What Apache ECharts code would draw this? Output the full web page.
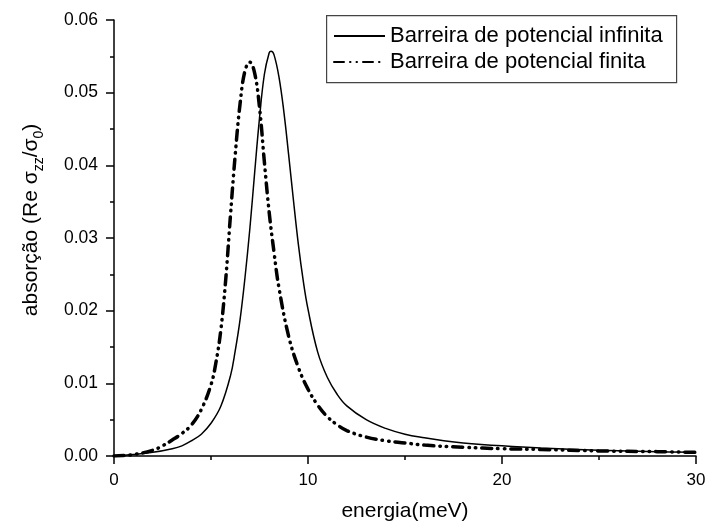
<!DOCTYPE html>
<html>
<head>
<meta charset="utf-8">
<script src="https://cdn.jsdelivr.net/npm/echarts@6/dist/echarts.min.js"></script>
<style>html,body{margin:0;padding:0;background:#fff;}#c{width:709px;height:531px;}</style>
</head>
<body>
<div id="c"></div>
<script>
const seriesNames = ['Barreira de potencial infinita', 'Barreira de potencial finita'];
const infX = [0,1,2,3,3.5,4,4.5,5,5.5,6,6.25,6.5,6.75,7,7.25,7.5,7.75,8,8.1,8.25,8.5,8.75,9,9.25,9.5,9.75,10,10.5,11,11.5,12,13,14,15,16,17,18,20,22,25,28,30];
const infY = [0,0.0002,0.0005,0.0010,0.0014,0.0021,0.0030,0.0045,0.0068,0.0110,0.0145,0.0188,0.0245,0.0312,0.0390,0.0465,0.0525,0.0555,0.0557,0.0552,0.0522,0.0475,0.0415,0.0352,0.0292,0.0242,0.0202,0.0143,0.0108,0.0085,0.0069,0.0050,0.0038,0.0030,0.0025,0.0021,0.0018,0.0014,0.0011,0.0008,0.0006,0.0005];
const finX = [0,1,2,2.5,3,3.5,4,4.5,5,5.25,5.5,5.75,6,6.25,6.5,6.75,7,7.25,7.5,7.75,8,8.25,8.5,9,9.5,10,10.5,11,11.5,12,13,14,15,16,18,20,22,25,28,30];
const finY = [0,0.0002,0.0008,0.0014,0.0022,0.0031,0.0043,0.0064,0.0098,0.0128,0.0172,0.0240,0.0330,0.0415,0.0485,0.0530,0.0542,0.0527,0.0480,0.0405,0.0335,0.0280,0.0232,0.0165,0.0122,0.0092,0.0070,0.0054,0.0043,0.0035,0.0026,0.0021,0.0018,0.0015,0.0012,0.0010,0.0009,0.0007,0.0006,0.0005];
const xTicks = {min:0, max:30, interval:10};
const yTicks = {min:0, max:0.06, interval:0.01};

const FONT = 'Liberation Sans, Arial, sans-serif';
const zip = (xs, ys) => xs.map((x, i) => [x, ys[i]]);
const chart = echarts.init(document.getElementById('c'));
chart.setOption({
  animation: false,
  backgroundColor: '#fff',
  grid: {left: 114, right: 13, top: 20, bottom: 75},
  graphic: [{
    type: 'rect', left: 326, top: 15, z: 10,
    shape: {width: 350, height: 67},
    style: {fill: '#fff', stroke: '#444', lineWidth: 1.2}
  }],
  legend: {
    left: 333, top: 25, orient: 'vertical', z: 20,
    itemWidth: 51, itemHeight: 14, itemGap: 4, padding: 0,
    itemStyle: {opacity: 0},
    textStyle: {fontSize: 22, color: '#000', fontFamily: FONT, lineHeight: 22},
    data: seriesNames
  },
  xAxis: {
    type: 'value', min: xTicks.min, max: xTicks.max, interval: xTicks.interval,
    name: 'energia(meV)', nameLocation: 'middle', nameGap: 45,
    nameTextStyle: {fontSize: 21, color: '#000', fontFamily: FONT},
    axisLine: {show: true, lineStyle: {color: '#000', width: 1.5}},
    axisTick: {show: true, inside: false, length: 8, lineStyle: {color: '#000', width: 1.5}},
    minorTick: {show: true, splitNumber: 2, length: 4, lineStyle: {color: '#000', width: 1.5}},
    axisLabel: {fontSize: 17, color: '#000', fontFamily: FONT, margin: 16},
    splitLine: {show: false}
  },
  yAxis: {
    type: 'value', min: yTicks.min, max: yTicks.max, interval: yTicks.interval,
    name: '{a|absorção (Re σ}{s|zz}{a|/σ}{s|0}{a|)}', nameLocation: 'middle', nameGap: 72,
    nameTextStyle: {
      color: '#000', fontFamily: FONT, fontSize: 21,
      padding: [0, 0, 0, 36],
      rich: {
        a: {fontSize: 21, color: '#000', fontFamily: FONT, lineHeight: 26, verticalAlign: 'bottom'},
        s: {fontSize: 14, color: '#000', fontFamily: FONT, lineHeight: 14, verticalAlign: 'bottom', padding: [0,0,-4,0]}
      }
    },
    axisLine: {show: true, lineStyle: {color: '#000', width: 1.5}},
    axisTick: {show: true, inside: false, length: 8, lineStyle: {color: '#000', width: 1.5}},
    minorTick: {show: true, splitNumber: 2, length: 4, lineStyle: {color: '#000', width: 1.5}},
    axisLabel: {fontSize: 17.5, color: '#000', fontFamily: FONT, margin: 16, formatter: v => v.toFixed(2)},
    splitLine: {show: false}
  },
  series: [
    {
      name: seriesNames[0], type: 'line', data: zip(infX, infY), smooth: 0.4,
      showSymbol: false, symbol: 'none',
      lineStyle: {color: '#000', width: 1.5, type: 'solid'},
      itemStyle: {color: '#000'}
    },
    {
      name: seriesNames[1], type: 'line', data: zip(finX, finY), smooth: 0.4,
      showSymbol: false, symbol: 'none',
      lineStyle: {color: '#000', width: 3.5, type: [10, 6, 0.5, 6, 0.5, 6], cap: 'round'},
      itemStyle: {color: '#000'}
    }
  ]
});
</script>
</body>
</html>
